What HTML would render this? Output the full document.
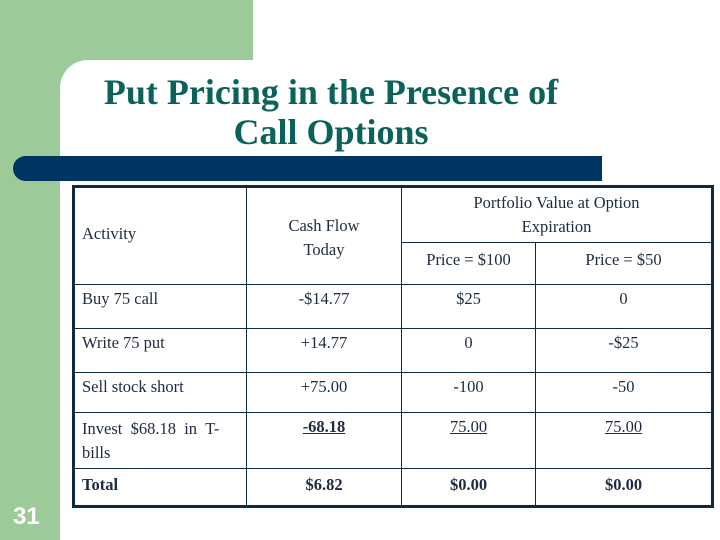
<!DOCTYPE html>
<html><head><meta charset="utf-8"><style>
body{margin:0;width:720px;height:540px;position:relative;overflow:hidden;background:#fff;font-family:"Liberation Serif",serif;}
.abs{position:absolute;}
td{border:1.5px solid #0d2a40;color:#1c2b3f;font-size:16.5px;padding:0;}
</style></head><body>
<div class="abs" style="left:0;top:0;width:60px;height:540px;background:#9ccb99"></div>
<div class="abs" style="left:0;top:0;width:253px;height:60px;background:#9ccb99"></div>
<div class="abs" style="left:60px;top:60px;width:30px;height:30px;background:#9ccb99"></div>
<div class="abs" style="left:60px;top:60px;width:60px;height:60px;background:#fff;border-top-left-radius:28px"></div>
<div class="abs" style="left:60px;top:72px;width:542px;text-align:center;color:#0b6258;font-size:36px;font-weight:bold;line-height:40px">Put Pricing in the Presence of<br>Call Options</div>
<div class="abs" style="left:13px;top:156px;width:589px;height:25px;background:#003462;border-radius:13px 0 0 13px"></div>
<table class="abs" style="left:72px;top:185px;width:642px;height:323px;border-collapse:collapse;border:3px solid #0d2a40;table-layout:fixed">
<colgroup><col style="width:173px"><col style="width:155px"><col style="width:134px"><col></colgroup>
<tr style="height:56px"><td rowspan="2" style="padding-left:7px;padding-bottom:4px">Activity</td><td rowspan="2" style="text-align:center;line-height:24px;padding-top:4px">Cash Flow<br>Today</td><td colspan="2" style="text-align:center;line-height:24px">Portfolio Value at Option<br>Expiration</td></tr>
<tr style="height:42px"><td style="text-align:center;padding-bottom:8px">Price = $100</td><td style="text-align:center;padding-bottom:8px">Price = $50</td></tr>
<tr style="height:44px"><td style="padding-left:7px;vertical-align:top;padding-top:4px">Buy 75 call</td><td style="text-align:center;vertical-align:top;padding-top:4px">-$14.77</td><td style="text-align:center;vertical-align:top;padding-top:4px">$25</td><td style="text-align:center;vertical-align:top;padding-top:4px">0</td></tr>
<tr style="height:44px"><td style="padding-left:7px;vertical-align:top;padding-top:4px">Write 75 put</td><td style="text-align:center;vertical-align:top;padding-top:4px">+14.77</td><td style="text-align:center;vertical-align:top;padding-top:4px">0</td><td style="text-align:center;vertical-align:top;padding-top:4px">-$25</td></tr>
<tr style="height:40px"><td style="padding-left:7px;vertical-align:top;padding-top:4px">Sell stock short</td><td style="text-align:center;vertical-align:top;padding-top:4px">+75.00</td><td style="text-align:center;vertical-align:top;padding-top:4px">-100</td><td style="text-align:center;vertical-align:top;padding-top:4px">-50</td></tr>
<tr style="height:56px"><td style="padding-left:7px;vertical-align:top;padding-top:4px;line-height:24px">Invest &nbsp;$68.18 &nbsp;in &nbsp;T-<br>bills</td><td style="text-align:center;vertical-align:top;padding-top:4px;font-weight:bold;text-decoration:underline">-68.18</td><td style="text-align:center;vertical-align:top;padding-top:4px;text-decoration:underline">75.00</td><td style="text-align:center;vertical-align:top;padding-top:4px;text-decoration:underline">75.00</td></tr>
<tr style="font-weight:bold"><td style="padding-left:7px;vertical-align:top;padding-top:6px;font-weight:bold">Total</td><td style="text-align:center;vertical-align:top;padding-top:6px;font-weight:bold">$6.82</td><td style="text-align:center;vertical-align:top;padding-top:6px;font-weight:bold">$0.00</td><td style="text-align:center;vertical-align:top;padding-top:6px;font-weight:bold">$0.00</td></tr>
</table>
<div class="abs" style="left:13px;top:503px;font-family:'Liberation Sans',sans-serif;font-weight:bold;color:#fff;font-size:24px">31</div>
</body></html>
